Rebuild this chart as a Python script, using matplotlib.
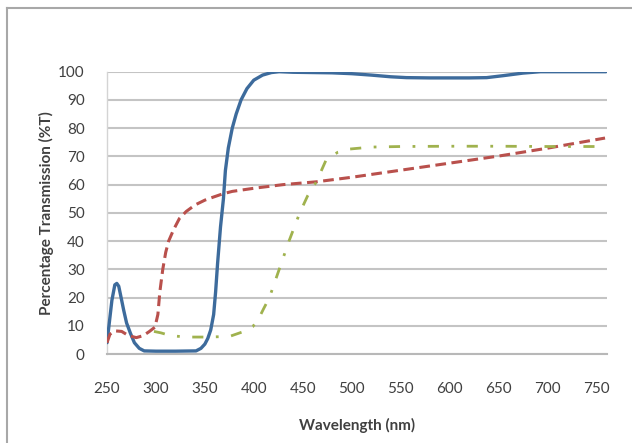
import matplotlib
matplotlib.use("Agg")
import matplotlib.pyplot as plt
from matplotlib.lines import Line2D

# ── Data ──────────────────────────────────────────────────────────────────────
blue_wl = [250, 252, 255, 258, 260, 262, 265, 267, 270, 274, 278, 283, 288, 300,
           320, 341, 346, 350, 353, 356, 359, 361, 363, 366, 369, 371, 374, 378,
           382, 387, 393, 400, 409, 418, 426, 440, 460, 480, 500, 520, 540, 556,
           580, 600, 620, 638, 655, 675, 693, 720, 760]
blue_t = [4, 10, 19, 24.5, 25, 24, 19, 15.6, 11, 7.3, 4, 2, 1.1, 1,
          1, 1.1, 2, 3.5, 5.5, 8.5, 14, 22, 32, 45, 55, 65, 73, 80,
          85, 90, 94, 97, 98.8, 99.7, 100, 99.8, 99.7, 99.6, 99.3, 98.8, 98.2, 97.9,
          97.8, 97.8, 97.8, 97.9, 98.6, 99.5, 100, 100, 100]

red_wl = [250, 253, 258, 265, 272, 280, 287, 293, 299, 302, 304, 307, 310, 313,
          318, 324, 331, 340, 350, 358, 368, 378, 400, 430, 464, 500, 550, 600,
          650, 700, 759]
red_t = [4, 7, 8.2, 8, 6.5, 5.8, 6.5, 7.9, 9.5, 14, 22, 30, 36, 40,
         44, 48, 50.5, 52.8, 54.5, 55.5, 56.7, 57.6, 58.7, 60, 61, 62.6, 65.1, 67.6,
         70.1, 72.9, 76.5]

green_wl = [298, 305, 315, 331, 350, 375, 390, 399, 405, 410, 416, 421, 427, 436,
            447, 455, 464, 474, 486, 498, 520, 550, 600, 650, 700, 759]
green_t = [8, 7.5, 6.5, 6, 6, 6.2, 8, 9.7, 12.5, 16, 20, 25, 31, 40,
           50, 56, 61, 68.8, 71.5, 72.6, 73.3, 73.5, 73.6, 73.6, 73.5, 73.5]

x_ticks = [250, 300, 350, 400, 450, 500, 550, 600, 650, 700, 750]
y_ticks = [0, 10, 20, 30, 40, 50, 60, 70, 80, 90, 100]

# ── Style ─────────────────────────────────────────────────────────────────────
C_BLUE  = "#3D6B9C"
C_RED   = "#B9504C"
C_GREEN = "#A0B24E"
C_GRID  = "#C4C4C4"
C_TEXT  = "#404040"

plt.rcParams["font.family"] = ["Lato", "DejaVu Sans"]

fig = plt.figure(figsize=(6.32, 4.43), dpi=100)
ax = fig.add_axes([107 / 632, 1 - 354 / 443, 500 / 632, (354 - 71.7) / 443])

ax.plot(blue_wl, blue_t, color=C_BLUE, lw=2.4, solid_capstyle="round", zorder=3)
ax.plot(red_wl, red_t, color=C_RED, lw=2.2, dashes=(3.5, 1.8), zorder=3)
ax.plot(green_wl, green_t, color=C_GREEN, lw=2.0, dashes=(4, 4.5, 1, 4.5), zorder=3)

ax.set_xlim(250, 761)
ax.set_ylim(0, 100)
ax.set_xticks(x_ticks)
ax.set_yticks(y_ticks)
ax.grid(axis="y", color=C_GRID, linewidth=1.5, zorder=0)
ax.tick_params(length=0, labelsize=11, labelcolor=C_TEXT)
ax.tick_params(axis="x", pad=20)
ax.tick_params(axis="y", pad=16)

for side in ("top", "right"):
    ax.spines[side].set_visible(False)
ax.spines["bottom"].set_color("#B8B8B8")
ax.spines["bottom"].set_linewidth(1.5)
ax.spines["left"].set_color("#D4D4D4")
ax.spines["left"].set_linewidth(1.0)

ax.set_xlabel("Wavelength (nm)", fontsize=11, fontweight="bold", color=C_TEXT, labelpad=16)
ax.set_ylabel("Percentage Transmission (%T)", fontsize=11, fontweight="bold", color=C_TEXT,
              labelpad=3)

# chart-area frame (left and top edges only are visible in the reference)
fig.add_artist(Line2D([7 / 632, 7 / 632], [0, 1 - 8 / 443], transform=fig.transFigure,
                      color="#A8A8A8", lw=1.5))
fig.add_artist(Line2D([7 / 632, 1], [1 - 8 / 443, 1 - 8 / 443], transform=fig.transFigure,
                      color="#A8A8A8", lw=1.5))

fig.savefig("out.png", dpi=100, facecolor="white")
